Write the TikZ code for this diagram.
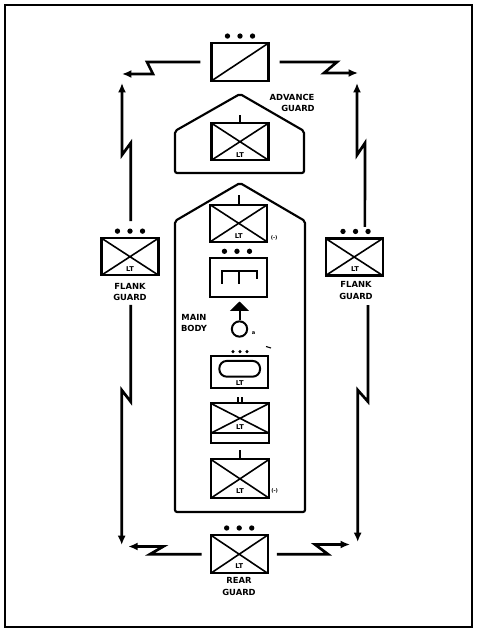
\documentclass[tikz,border=0pt]{standalone}
\usepackage{fontspec}
\setsansfont{DejaVu Sans}
\usetikzlibrary{arrows.meta}
\newcommand\threedots[2][0pt]{\foreach \dx in {-9.4pt,0pt,9.4pt} \fill ([xshift=\dx+#1,yshift=4.5pt]#2.north) circle (2pt);}
\begin{document}
\begin{tikzpicture}[x=0.75pt,y=-0.75pt,
 ubox/.style={draw, line width=1.6pt, minimum width=42.75pt, minimum height=27.75pt, inner sep=0pt},
 xcross/.style={path picture={\draw[line width=1.2pt] (path picture bounding box.south west) -- (path picture bounding box.north east) (path picture bounding box.north west) -- (path picture bounding box.south east);}},
 slash/.style={path picture={\draw[line width=1.2pt] (path picture bounding box.south west) -- (path picture bounding box.north east);}},
 lab/.style={font=\sffamily\bfseries\fontsize{6.3}{7}\selectfont, inner sep=0pt},
 lt/.style={font=\sffamily\bfseries\fontsize{5}{5.5}\selectfont, inner sep=0pt},
 tinytxt/.style={font=\sffamily\bfseries\fontsize{3.8}{4}\selectfont, inner sep=0pt},
 conn/.style={line width=2pt, -{Latex[length=7pt,width=6pt]}},
 body/.style={draw, line width=1.6pt, rounded corners=1.5pt},
 tickline/.style={line width=1.3pt},
]
\useasboundingbox (0,0) rectangle (477,634);
\draw[line width=1.5pt] (5,5) rectangle (472,627);

% ---------- advance guard ----------
\node[ubox,slash,minimum height=28.3pt] (adv) at (240,62) {};
\threedots{adv}
\draw[body] (175,173) -- (175,131) -- (240,94) -- (304,131) -- (304,173) -- cycle;
\node[ubox,xcross] (avb) at (240,141.7) {};
\draw[tickline] (avb.north) -- ++(0,-7);
\node[lt] (avlt) at (240,155) {LT};
\node[lab] (advt1) at (292,97) {ADVANCE};
\node[lab] (advt2) at (298,108) {GUARD};

% ---------- main body ----------
\draw[body] (175,512) -- (175,221) -- (240,183) -- (305,221) -- (305,512) -- cycle;
\node[ubox,xcross] (m1) at (238.7,223.3) {};
\draw[tickline] (m1.north) -- ++(0,-9);
\node[lt] (m1lt) at (238.7,236) {LT};
\node[tinytxt,anchor=west] (m1m) at (270.5,237.5) {(-)};

\node[ubox,minimum height=28.7pt] (eng) at (238.3,277.5) {};
\threedots[-1pt]{eng}
\begin{scope}[shift={(eng.center)}]
\draw[line width=1.6pt] (-16.6,6) -- (-16.6,-6.8) -- (18.4,-6.8) -- (18.4,1.5);
\draw[line width=1.6pt] (0.7,-6.8) -- (0.7,6);
\end{scope}

\node[circle,draw,line width=1.5pt,minimum size=11.5pt,inner sep=0pt] (gun) at (239.5,329) {};
\draw[line width=1.5pt,-{Triangle[length=7pt,width=14pt]}] (gun.north) -- (239.5,301.5);
\node[tinytxt] (guna) at (253.5,333.5) {a};
\node[lab] (mb1) at (194,317) {MAIN};
\node[lab] (mb2) at (194,328.5) {BODY};
\draw[line width=0.8pt] (266,346.5) -- (271,348);

\foreach \xx in {233,240,247} \fill (\xx,351.7) circle (1.3pt);
\node[ubox,minimum height=24.2pt] (arm) at (239.7,372.2) {};
\node[draw,line width=1.5pt,rounded corners=5.5pt,minimum width=30.5pt,minimum height=11.8pt,inner sep=0pt] (pill) at (239.7,368.8) {};
\node[lt] (armlt) at (239.7,383) {LT};

\node[ubox,minimum width=44pt,minimum height=30pt] (m2) at (240,423.3) {};
\draw[line width=1.4pt] (210.7,433.3) -- (269.3,433.3);
\draw[line width=1.2pt] (210.7,403.3) -- (269.3,433.3) (210.7,433.3) -- (269.3,403.3);
\draw[tickline] (238,403) -- ++(0,-6);
\draw[tickline] (242,403) -- ++(0,-6);
\node[lt] (m2lt) at (240,427) {LT};

\node[ubox,xcross,minimum width=44pt,minimum height=29.25pt] (m3) at (240,478.8) {};
\draw[tickline] (m3.north) -- ++(0,-8);
\node[lt] (m3lt) at (240,491) {LT};
\node[tinytxt,anchor=west] (m3m) at (271,490.7) {(-)};

% ---------- flank guards ----------
\node[ubox,xcross] (lf) at (130,256.7) {};
\threedots{lf}
\node[lt] (lflt) at (130,269) {LT};
\node[lab] (lft1) at (130,286) {FLANK};
\node[lab] (lft2) at (130,297.5) {GUARD};

\node[ubox,xcross] (rf) at (354.2,257) {};
\threedots[1pt]{rf}
\node[lt] (rflt) at (355,269) {LT};
\node[lab] (rft1) at (356,284.5) {FLANK};
\node[lab] (rft2) at (356,296.5) {GUARD};

% ---------- rear guard ----------
\node[ubox,xcross,minimum height=28.7pt] (rear) at (239.2,554.2) {};
\threedots{rear}
\node[lt] (rearlt) at (239.2,566.5) {LT};
\node[lab] (rt1) at (239,580.5) {REAR};
\node[lab] (rt2) at (239,592) {GUARD};

% ---------- connectors ----------
\coordinate (ctlh) at (122,74);
\coordinate (ctlv) at (122,83);
\coordinate (ctrh) at (358,73);
\coordinate (ctrv) at (357,83);
\coordinate (cblv) at (121.7,545);
\coordinate (cblh) at (128.3,546.5);
\coordinate (cbrv) at (357.7,542);
\coordinate (cbrh) at (350,544.5);

\draw[conn] ([xshift=-7.5pt]adv.west) -- (147,62) -- (153,74) -- (ctlh);
\draw[conn] ([xshift=7.5pt]adv.east) -- (337,62) -- (324,73) -- (ctrh);
\draw[conn] ([xshift=0.5pt,yshift=12pt]lf.north) -- (130.7,143) -- (122,155) -- (ctlv);
\draw[conn] ([xshift=8pt,yshift=8pt]rf.north) -- (365,143) -- (357,155) -- (ctrv);
\draw[conn] ([xshift=0.5pt,yshift=-21.5pt]lf.south) -- (130.7,401.7) -- (121.7,390) -- (cblv);
\draw[conn] ([xshift=10.35pt,yshift=-21.4pt]rf.south) -- (368,401.7) -- (357.7,390) -- (cbrv);
\draw[conn] ([xshift=-6pt]rear.west) -- (150,554.2) -- (163.3,546.5) -- (cblh);
\draw[conn] ([xshift=6pt]rear.east) -- (328,554.2) -- (315,544.5) -- (cbrh);
\end{tikzpicture}
\end{document}
